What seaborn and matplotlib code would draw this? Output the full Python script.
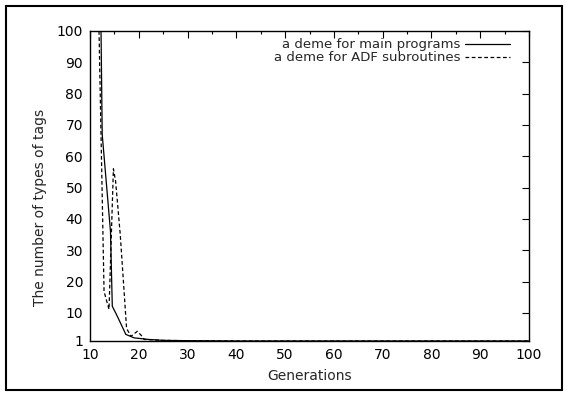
import matplotlib
matplotlib.use("Agg")
import matplotlib.pyplot as plt
import seaborn as sns
import pandas as pd
from matplotlib.ticker import MultipleLocator, FixedLocator
from matplotlib.patches import Rectangle

# Data
gens_main = [12.26, 12.5, 14.2, 14.57, 15.6, 17.35, 19.05, 22, 25, 30, 35, 40, 100]
tags_main = [100, 67, 36, 12.1, 8.9, 3.1, 2.0, 1.5, 1.2, 1.1, 1.05, 1.0, 1.0]

gens_adf = [11.85, 12.88, 13.9, 14.8, 15.25, 16.2, 17.5, 18.4, 19.7, 20.5, 21.1, 25, 30, 35, 40, 100]
tags_adf = [100, 16.8, 11.1, 56, 52, 35, 5, 2.5, 4.1, 2.8, 1.5, 1.2, 1.1, 1.05, 1.0, 1.0]

label_main = "a deme for main programs"
label_adf = "a deme for ADF subroutines"
x_ticks = [10, 20, 30, 40, 50, 60, 70, 80, 90, 100]
y_ticks = [1, 10, 20, 30, 40, 50, 60, 70, 80, 90, 100]

FS = 10

sns.set_theme(style="white")
plt.rcParams['font.family'] = ['DejaVu Sans']
plt.rcParams['font.size'] = FS

fig = plt.figure(figsize=(5.67, 3.96), dpi=100)
ax = fig.add_axes([90/567, 1-341/396, (529-90)/567, (341-31)/396])

df_main = pd.DataFrame({"gen": gens_main, "tags": tags_main})
df_adf = pd.DataFrame({"gen": gens_adf, "tags": tags_adf})

sns.lineplot(data=df_main, x="gen", y="tags", ax=ax, color="black",
             linewidth=0.9, label=label_main, sort=False)
sns.lineplot(data=df_adf, x="gen", y="tags", ax=ax, color="black",
             linewidth=0.9, linestyle=(0, (3, 2)), label=label_adf, sort=False)

ax.set_xlim(10, 100)
ax.set_ylim(1, 100)
ax.xaxis.set_major_locator(FixedLocator(x_ticks))
ax.xaxis.set_minor_locator(MultipleLocator(5))
ax.yaxis.set_major_locator(FixedLocator(y_ticks))
ax.tick_params(axis="both", which="both", direction="in", top=True, right=True,
               labelsize=FS, colors="black", pad=5)
ax.tick_params(which="major", length=5, width=0.8)
ax.tick_params(which="minor", length=2.5, width=0.8)
for s in ax.spines.values():
    s.set_color("black")
    s.set_linewidth(1.0)
    s.set_visible(True)

ax.set_xlabel("Generations", fontsize=FS, labelpad=5)
ax.set_ylabel("The number of types of tags", fontsize=FS)
ax.yaxis.set_label_coords(-(90-47)/439, (341-207)/310)

leg = ax.legend(loc="upper right", bbox_to_anchor=(1 - 14/439, 1.0 - 2/310),
                frameon=False, markerfirst=False,
                handlelength=3.4, fontsize=9.5, borderaxespad=0.0,
                labelspacing=0.0, handletextpad=0.35)
for line in leg.get_lines():
    line.set_linewidth(0.9)

fig.patches.append(Rectangle((6/567, 1-390/396), (562-6)/567, (390-6)/396,
                             transform=fig.transFigure, fill=False,
                             edgecolor="black", linewidth=1.5))

fig.savefig("out.png", dpi=100, facecolor="white")
